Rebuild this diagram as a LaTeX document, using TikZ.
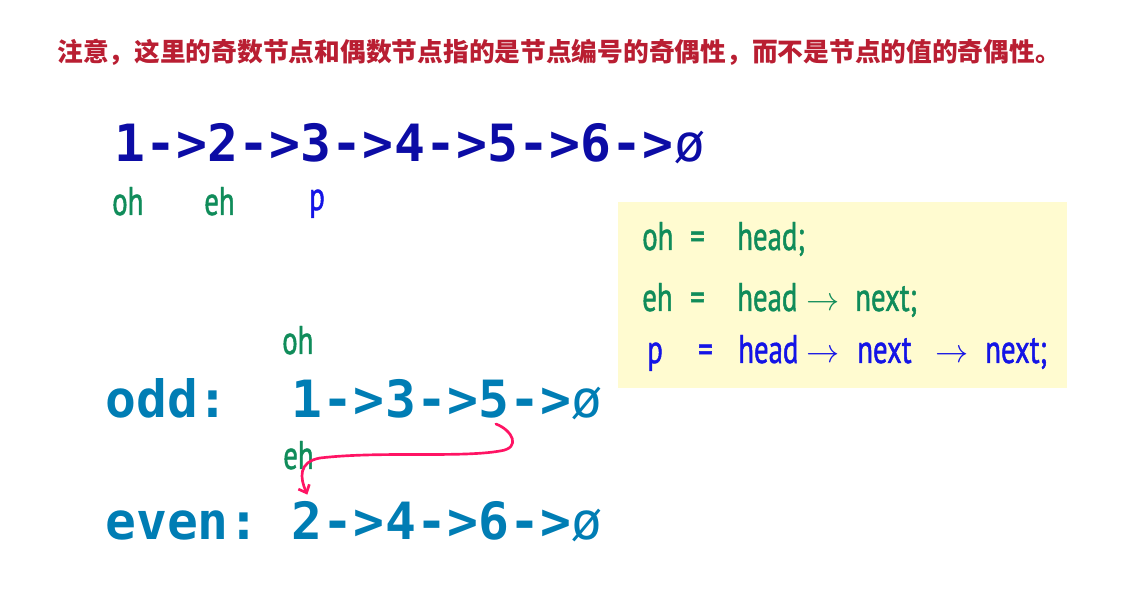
\documentclass[tikz,border=0pt]{standalone}
\usepackage{fontspec}
\usepackage{tikz}
\usetikzlibrary{
  arrows.meta,  % 箭头样式
  calc          % 坐标计算
}
\newfontfamily\mono{DejaVu Sans Mono}
\newfontfamily\cjk{Noto Sans CJK SC}
\newfontfamily\hand[FakeStretch=0.72, FakeBold=1.2]{PT Sans}
\definecolor{titlered}{RGB}{185,30,50}
\definecolor{listblue}{RGB}{12,12,165}
\definecolor{splitblue}{RGB}{0,125,180}
\definecolor{handgreen}{RGB}{16,140,90}
\definecolor{handblue}{RGB}{20,20,230}
\definecolor{linkred}{RGB}{255,20,100}
\definecolor{notefill}{RGB}{255,251,208}

\begin{document}
\begin{tikzpicture}[x=0.75pt, y=-0.75pt, >=Stealth,
    item/.style={inner sep=0pt, anchor=base west,
      font=\mono\bfseries\fontsize{38.5}{40}\selectfont},
    hand/.style={inner sep=0pt, anchor=base west,
      font=\hand\fontsize{30}{32}\selectfont}]
    % 每个等宽字符的宽度
    \def\cw{31.1}
    \useasboundingbox (0,0) rectangle (1128,605);

    % --- 提示文字 ---
    \node[anchor=west, inner sep=0pt, titlered,
      font=\cjk\bfseries\fontsize{19.3}{20}\selectfont] (note) at (57,52)
      {注意，这里的奇数节点和偶数节点指的是节点编号的奇偶性，而不是节点的值的奇偶性。};

    % --- 原链表 1->2->...->6 ---
    \foreach \v [count=\k from 0] in {1,...,6}{
      \node[item, listblue] (a\v) at (114+3*\k*\cw, 162) {\v};
      \node[item, listblue] (a\v-r) at (114+3*\k*\cw+\cw, 162) {->};
    }
    \node[item, listblue] (anull) at (114+18*\cw, 162) {\mdseries ø};
    \node[hand, handgreen] (oh0) at (112,215) {oh};
    \node[hand, handgreen] (eh0) at (204,215) {eh};
    \node[hand, handblue] (p0) at (309,210) {p};

    % --- 初始化说明 ---
    \fill[notefill] (618,202) rectangle (1067,388);
    \foreach \x/\t [count=\j] in {642/oh, 690/=, 737/head;}
      \node[hand, handgreen] (l1-\j) at (\x,250) {\t};
    \foreach \x/\t [count=\j] in {642/eh, 690/=, 737/head, 806/{$\rightarrow$}, 855/next;}
      \node[hand, handgreen] (l2-\j) at (\x,311) {\t};
    \foreach \x/\t [count=\j] in {647/p, 698/=, 738/head, 806/{$\rightarrow$}, 857/next,
        935/{$\rightarrow$}, 985/next;}
      \node[hand, handblue] (l3-\j) at (\x,363) {\t};

    % --- 拆分后的奇链表 ---
    \node[item, splitblue] (oddlbl) at (105,418) {odd:};
    \foreach \v [count=\k from 0] in {1,3,5}{
      \node[item, splitblue] (o\v) at (105+6*\cw+3*\k*\cw, 418) {\v};
      \node[item, splitblue] (o\v-r) at (105+7*\cw+3*\k*\cw, 418) {->};
    }
    \node[item, splitblue] (onull) at (105+15*\cw, 418) {\mdseries ø};
    \node[hand, handgreen] (oh1) at (282,354) {oh};

    % --- 拆分后的偶链表 ---
    \node[item, splitblue] (evenlbl) at (105,540) {even:};
    \foreach \v [count=\k from 0] in {2,4,6}{
      \node[item, splitblue] (e\v) at (105+6*\cw+3*\k*\cw, 540) {\v};
      \node[item, splitblue] (e\v-r) at (105+7*\cw+3*\k*\cw, 540) {->};
    }
    \node[item, splitblue] (enull) at (105+15*\cw, 540) {\mdseries ø};
    \node[hand, handgreen] (eh1) at (283,469) {eh};

    % 5 接到 2
    \draw[linkred, line width=2pt, line cap=round, -{Straight Barb[length=5pt,width=9pt]}]
      ($(o5.south)+(2,5)$) .. controls (512,430) and (522,448) .. (500,451)
      .. controls (460,458) and (380,451) .. (320,458)
      .. controls (298,462) and (300,478) .. ($(e2.north)+(0,-7)$);

  \end{tikzpicture}
\end{document}
